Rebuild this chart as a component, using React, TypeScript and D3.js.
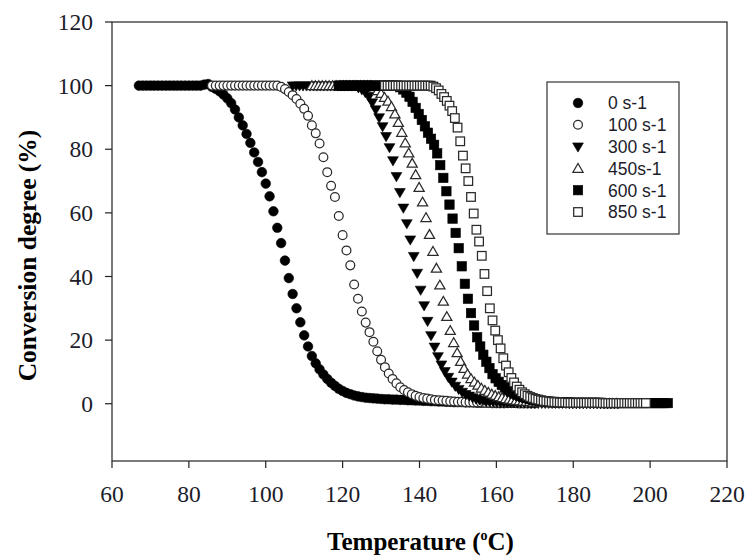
import React from 'react';
import * as d3 from 'd3';

// ---------- data ----------
const SERIES_LABELS = ['0 s-1', '100 s-1', '300 s-1', '450s-1', '600 s-1', '850 s-1'];
const SERIES_MARKERS = ['circleFilled', 'circleOpen', 'triDownFilled', 'triUpOpen', 'squareFilled', 'squareOpen'];
// first temperature and sampling step (°C) of each series
const T_START = [67, 86, 107, 112, 119, 131];
const T_STEP = [1.0, 1.0, 0.9, 0.9, 0.8, 0.7];

const CONV_0 = [
  100, 100, 100, 100, 100, 100, 100, 100, 100, 100, 100, 100, 100, 100, 100, 100, 100, 100.3,
  100.5, 99.6, 99, 98.2, 97.2, 96, 94.5, 92.5, 90, 87.5, 84.8, 82, 79, 76, 72.8, 69.2, 65.2, 60.5,
  55.3, 50.5, 45, 39.5, 34.5, 30, 25.6, 21.5, 18, 15, 12.7, 10.8, 9.2, 7.8, 6.6, 5.6, 4.7, 4, 3.4,
  3, 2.6, 2.3, 2.1, 1.9, 1.8, 1.7, 1.6, 1.5, 1.4, 1.4, 1.3, 1.3, 1.2, 1.2, 1.1, 1.1, 1.0, 1.0, 0.9,
  0.9, 0.8, 0.8, 0.7, 0.7, 0.6, 0.6, 0.5, 0.5, 0.5, 0.4, 0.4, 0.4, 0.3, 0.3, 0.3, 0.3, 0.2, 0.2,
  0.2, 0.2,
];
const CONV_100 = [
  100, 100, 100, 100, 100, 100, 100, 100, 100, 100, 100, 100, 100, 100, 100, 100, 100, 100,
  99.6, 98.9, 98, 97, 95.8, 94.3, 92.7, 90.5, 87.5, 85, 81.8, 77.5, 72.8, 68.5, 65, 59, 53, 48.2,
  43.5, 37.5, 33, 29, 25.5, 22.5, 19.5, 16.5, 13.8, 11.5, 9.5, 7.8, 6.4, 5.2, 4.3, 3.6, 3, 2.5, 2.1,
  1.8, 1.6, 1.4, 1.2, 1.1, 1.0, 0.9, 0.8, 0.7, 0.6, 0.6, 0.5, 0.5, 0.4, 0.4, 0.4, 0.3, 0.3, 0.3,
  0.3, 0.2, 0.2, 0.2, 0.2, 0.2, 0.1, 0.1, 0.1, 0.1, 0.1,
];
const CONV_300 = [
  100, 100, 100, 100, 100, 100, 100, 100, 100, 100, 100, 100, 100, 100, 100, 100, 100, 100, 100,
  99.4, 98.8, 97.9, 96.6, 94.7, 92.5, 90, 87.2, 84.1, 80.6, 76.5, 71.5, 66.5, 61.6, 56.7, 51.6,
  46.4, 41.1, 35.8, 30.9, 26, 21.5, 17.9, 14.9, 12.3, 10.2, 8.4, 6.9, 5.6, 4.6, 3.7, 3, 2.5, 2,
  1.6, 1.3, 1.1, 0.9, 0.8, 0.7, 0.6, 0.5, 0.5, 0.4, 0.4, 0.4, 0.3, 0.3, 0.3, 0.3, 0.2, 0.2, 0.2,
  0.2, 0.2, 0.2, 0.2, 0.2, 0.2, 0.2, 0.2, 0.1, 0.1, 0.1, 0.1, 0.1, 0.1, 0.1, 0.1, 0.1, 0.1, 0.1,
  0.1, 0.1, 0.1, 0.1,
];
const CONV_450 = [
  100, 100, 100, 100, 100, 100, 100, 100, 100, 100, 100, 100, 100, 100, 100, 100, 100, 100,
  99.1, 98.4, 97.5, 96.3, 95.1, 93.4, 91.1, 88.4, 85.3, 82, 78.8, 75.6, 72, 68, 63.4, 58.5, 53.2,
  47.9, 42.6, 37.3, 32.2, 27.4, 23, 19.2, 16, 13.3, 11.1, 9.3, 7.9, 6.8, 5.8, 4.9, 4.2, 3.6, 3,
  2.6, 2.2, 1.9, 1.6, 1.4, 1.2, 1.0, 0.9, 0.8, 0.7, 0.6, 0.5, 0.5, 0.4, 0.4, 0.3, 0.3, 0.2, 0.2,
  0.2, 0.2, 0.2, 0.2, 0.2, 0.2, 0.2, 0.1, 0.1, 0.1, 0.1, 0.1, 0.1, 0.1, 0.1, 0.1, 0.1,
];
const CONV_600 = [
  100, 100, 100, 100, 100, 100, 100, 100, 100, 100, 100, 100, 100, 100, 100, 100, 100, 100, 100, 100,
  99.5, 98.8, 97.8, 96.5, 94.9, 93, 91.1, 89.2, 87.2, 85.2, 83.3, 81.4, 78.7, 75, 71, 66.8, 62.6,
  58.2, 53.7, 48.9, 43.2, 37.7, 33, 28.5, 24.6, 20.9, 18, 15.4, 13.2, 11.2, 9.3, 8, 6.9, 5.9, 5.1,
  4.4, 3.8, 3.2, 2.8, 2.4, 2.1, 1.8, 1.5, 1.3, 1.1, 1.0, 0.9, 0.8, 0.7, 0.6, 0.6, 0.5, 0.5, 0.4,
  0.4, 0.4, 0.3, 0.3, 0.3, 0.3, 0.3, 0.3, 0.3, 0.3, 0.3, 0.3, 0.2, 0.2, 0.2, 0.2, 0.2, 0.2, 0.2,
  0.2, 0.2, 0.2, 0.2, 0.2, 0.2, 0.2, 0.2, 0.2, 0.2, 0.2, 0.2, 0.2, 0.2, 0.2,
];
const CONV_850 = [
  100, 100, 100, 100, 100, 100, 100, 100, 100, 100, 100, 100, 100, 100, 100, 100, 100, 100,
  99.7, 99.2, 98.5, 97.4, 96.4, 95.2, 93.7, 92, 89.8, 86.8, 82.5, 78, 74, 70, 65, 59.8, 54.7, 51,
  46.5, 40.8, 35.4, 30, 26.2, 23, 20, 17.4, 14.3, 12, 9.9, 8.1, 6.7, 5.4, 4.4, 3.6, 3, 2.5, 2.1,
  1.8, 1.5, 1.3, 1.1, 0.9, 0.8, 0.7, 0.6, 0.5, 0.5, 0.4, 0.4, 0.4, 0.3, 0.3, 0.3, 0.3, 0.3, 0.3,
  0.3, 0.3, 0.3, 0.3, 0.3, 0.3, 0.3, 0.2, 0.2, 0.2, 0.2, 0.2, 0.2, 0.2, 0.2, 0.2, 0.2, 0.2, 0.2,
  0.2, 0.2, 0.2, 0.2, 0.2,
];
const SERIES_VALUES = [CONV_0, CONV_100, CONV_300, CONV_450, CONV_600, CONV_850];

const X_TICKS = [60, 80, 100, 120, 140, 160, 180, 200, 220];
const Y_TICKS = [0, 20, 40, 60, 80, 100, 120];
const X_DOMAIN = [60, 220];
const Y_DOMAIN = [-18, 120];

// ---------- layout ----------
const W = 754;
const H = 560;
const PLOT = { left: 112, right: 727, top: 22, bottom: 461 };
const INK = '#1c1c2a';

function Marker({ kind, x, y }: { kind: string; x: number; y: number }) {
  const r = 4.8;
  const s = 4.7;
  const open = { fill: '#fff', stroke: '#2a2a2a', strokeWidth: 1.25 };
  const filled = { fill: '#000', stroke: '#000', strokeWidth: 0.6 };
  switch (kind) {
    case 'circleFilled':
      return <circle cx={x} cy={y} r={r} {...filled} />;
    case 'circleOpen':
      return <circle cx={x} cy={y} r={r - 0.4} {...open} />;
    case 'triDownFilled':
      return <path d={`M${x - 5.4},${y - 3.7}L${x + 5.4},${y - 3.7}L${x},${y + 5.5}Z`} {...filled} />;
    case 'triUpOpen':
      return <path d={`M${x - 5.1},${y + 3.9}L${x + 5.1},${y + 3.9}L${x},${y - 4.9}Z`} {...open} />;
    case 'squareFilled':
      return <rect x={x - s} y={y - s} width={2 * s} height={2 * s} {...filled} />;
    case 'squareOpen':
      return <rect x={x - s + 0.4} y={y - s + 0.4} width={2 * s - 0.8} height={2 * s - 0.8} {...open} />;
    default:
      return null;
  }
}

export default function App() {
  const x = d3.scaleLinear().domain(X_DOMAIN).range([PLOT.left, PLOT.right]);
  const y = d3.scaleLinear().domain(Y_DOMAIN).range([PLOT.bottom, PLOT.top]);
  const serif = '"Liberation Serif", "Times New Roman", Times, serif';
  const sans = '"Liberation Sans", Arial, Helvetica, sans-serif';

  const legendRowY = (i: number) => 103 + i * 21.8;

  return (
    <svg
      width={W}
      height={H}
      viewBox={`0 0 ${W} ${H}`}
      style={{ position: 'absolute', left: 0, top: 0, background: '#fff' }}
    >
      <rect x={0} y={0} width={W} height={H} fill="#fff" />

      {/* data */}
      {SERIES_VALUES.map((vals, si) => (
        <g key={si}>
          {vals.map((v, i) => (
            <Marker
              key={i}
              kind={SERIES_MARKERS[si]}
              x={x(T_START[si] + i * T_STEP[si])}
              y={y(v)}
            />
          ))}
        </g>
      ))}

      {/* frame */}
      <rect
        x={PLOT.left}
        y={PLOT.top}
        width={PLOT.right - PLOT.left}
        height={PLOT.bottom - PLOT.top}
        fill="none"
        stroke="#222"
        strokeWidth={1.2}
      />

      {/* y axis */}
      {Y_TICKS.map((t) => (
        <g key={t}>
          <line x1={PLOT.left - 7} x2={PLOT.left} y1={y(t)} y2={y(t)} stroke="#222" strokeWidth={1.2} />
          <text
            x={PLOT.left - 19}
            y={y(t)}
            dy="0.35em"
            textAnchor="end"
            fontFamily={serif}
            fontSize={23.5}
            fill={INK}
          >
            {t}
          </text>
        </g>
      ))}

      {/* x axis */}
      {X_TICKS.map((t) => (
        <g key={t}>
          <line x1={x(t)} x2={x(t)} y1={PLOT.bottom} y2={PLOT.bottom + 7} stroke="#222" strokeWidth={1.2} />
          <text
            x={x(t)}
            y={502}
            textAnchor="middle"
            fontFamily={serif}
            fontSize={23.5}
            fill={INK}
          >
            {t}
          </text>
        </g>
      ))}

      {/* axis titles */}
      <text
        x={(PLOT.left + PLOT.right) / 2 + 1}
        y={550}
        textAnchor="middle"
        fontFamily={serif}
        fontWeight="bold"
        fontSize={25}
        fill="#000"
      >
        Temperature (
        <tspan fontSize={14} dy={-10}>o</tspan>
        <tspan dy={10}>C)</tspan>
      </text>
      <text
        transform={`translate(36,${(PLOT.top + PLOT.bottom) / 2 + 14}) rotate(-90)`}
        textAnchor="middle"
        fontFamily={serif}
        fontWeight="bold"
        fontSize={25.5}
        fill="#000"
      >
        Conversion degree (%)
      </text>

      {/* legend */}
      <rect x={547} y={82} width={132} height={152} fill="#fff" stroke="#333" strokeWidth={1.2} />
      {SERIES_LABELS.map((lab, i) => (
        <g key={lab}>
          <Marker kind={SERIES_MARKERS[i]} x={578} y={legendRowY(i)} />
          <text
            x={608}
            y={legendRowY(i)}
            dy="0.36em"
            fontFamily={sans}
            fontSize={17.5}
            fill={INK}
          >
            {lab}
          </text>
        </g>
      ))}
    </svg>
  );
}
